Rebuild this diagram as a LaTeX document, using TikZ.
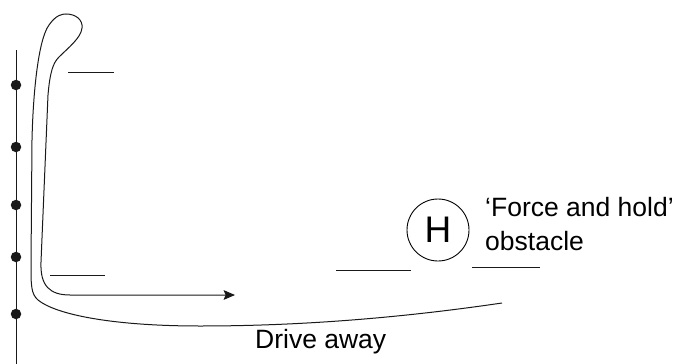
\documentclass[tikz,border=0pt]{standalone}
\usepackage{fontspec}
\setmainfont{Liberation Sans}
\usetikzlibrary{positioning,arrows.meta}
\tikzset{
  figline/.style={line width=1pt, black!90},
  figarrow/.style={figline, -{Stealth[length=4mm, width=3.4mm, inset=0.7mm]}},
  railpt/.style={circle, fill=black!90, inner sep=0pt, minimum size=10.5pt},
  figlabel/.style={font=\fontsize{26.5}{30}\selectfont, anchor=base west, inner sep=0pt},
  obstbox/.style={circle, draw, line width=0.9pt, minimum size=62pt, inner sep=0pt,
    font=\fontsize{37}{40}\selectfont},
}
\begin{document}
\begin{tikzpicture}[x=1pt, y=-1pt]
  \useasboundingbox (0,0) rectangle (680,364);
  % rail on the left
  \coordinate (railtop) at (16,50);
  \coordinate (railbot) at (16,364);
  \draw[figline] (railtop) -- (railbot);
  \foreach \y [count=\i] in {85,147,205,257,314}
    \node[railpt] (p\i) at (16,\y) {};
  % route: loop out and back
  \coordinate (routeend) at (502,303);
  \coordinate (arrowend) at (235,295);
  \draw[figarrow] (routeend)
    .. controls (400,318) and (300,326) .. (200,326)
    .. controls (110,326) and (55,314) .. (38,300)
    .. controls (31,294) and (31,285) .. (31,265)
    -- (32,140)
    .. controls (33,95) and (38,40) .. (49,25)
    .. controls (56,15) and (62,14) .. (66,14)
    .. controls (76,14) and (83,20) .. (82,28)
    .. controls (81,38) and (68,48) .. (59,57)
    .. controls (53,63) and (50,72) .. (48,95)
    -- (41,262)
    .. controls (40,286) and (50,295) .. (70,295)
    -- (arrowend);
  % blank marks
  \draw[figline] (68,72) -- (114,72);
  \draw[figline] (50,275) -- (105,275);
  \draw[figline] (336,270) -- (411,270);
  \draw[figline] (472,267) -- (540,267);
  % obstacle
  \node[obstbox] (hold) at (438,230) {H};
  \node[figlabel] (holdtxt) at (485,216) {‘Force and hold’};
  \node[figlabel] (obsttxt) at (485,250) {obstacle};
  \node[figlabel] (drive) at (255,348) {Drive away};
\end{tikzpicture}
\end{document}
